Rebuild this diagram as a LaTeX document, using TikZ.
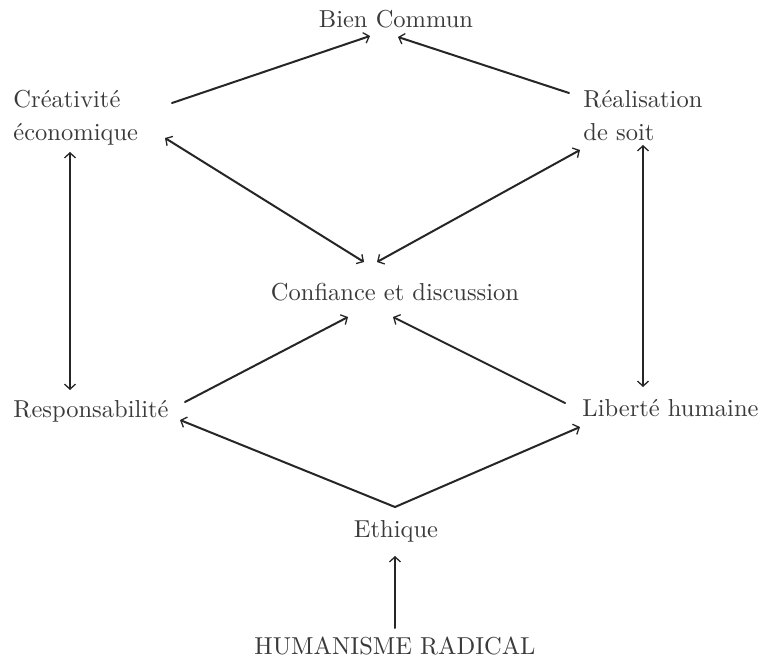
\documentclass[tikz,border=0pt]{standalone}
\usepackage{fontspec}
\usetikzlibrary{arrows.meta}
\definecolor{txt}{HTML}{3A3A3A}
\definecolor{ln}{HTML}{262626}
\begin{document}
\begin{tikzpicture}[x=1pt,y=-1pt,
  lbl/.style={inner sep=0pt,text=txt,font=\fontsize{10}{13.1}\selectfont,align=left,scale=2.45,transform shape},
  clbl/.style={inner sep=0pt,text=txt,font=\fontsize{10}{13.1}\selectfont,align=center,scale=2.45,transform shape},
  conn/.style={draw=ln,line width=2pt,line cap=round},
  >={Straight Barb[length=5pt,width=11pt,line width=1.3pt]}]
\useasboundingbox[fill=white] (0,0) rectangle (766,661);
% nodes
\node[clbl,anchor=base] (bien) at (396,28) {Bien Commun};
\node[lbl,anchor=base west] (crea) at (13,140) {Créativité\\économique};
\node[lbl,anchor=base west] (real) at (583,140) {Réalisation\\de soit};
\node[clbl,anchor=base] (conf) at (395,300) {Confiance et discussion};
\node[lbl,anchor=base west] (resp) at (13,417) {Responsabilité};
\node[lbl,anchor=base west] (lib) at (582,416) {Liberté humaine};
\node[clbl,anchor=base] (eth) at (396,537) {Ethique};
\node[clbl,anchor=base] (hum) at (395,654) {HUMANISME RADICAL};
\coordinate (split) at ([shift={(-1,-30)}]eth.base);
% connectors
\draw[conn,->] ([shift={(159,-37)}]crea.base west) -- ([shift={(-26,8)}]bien.base);
\draw[conn,->] ([shift={(-14,-47)}]real.base west) -- ([shift={(2,9)}]bien.base);
\draw[conn,<->] ([shift={(152,-2)}]crea.base west) -- ([shift={(-31,-38)}]conf.base);
\draw[conn,<->] ([shift={(-3,10)}]real.base west) -- ([shift={(-18,-38)}]conf.base);
\draw[conn,<->] ([shift={(57,12)}]crea.base west) -- ([shift={(57,-27)}]resp.base west);
\draw[conn,<->] ([shift={(60,5)}]real.base west) -- ([shift={(61,-29)}]lib.base west);
\draw[conn,->] ([shift={(172,-15)}]resp.base west) -- ([shift={(-47,17)}]conf.base);
\draw[conn,->] ([shift={(-17,-13)}]lib.base west) -- ([shift={(-2,17)}]conf.base);
\draw[conn,->] (split) -- ([shift={(167,3)}]resp.base west);
\draw[conn,->] (split) -- ([shift={(-2,11)}]lib.base west);
\draw[conn,->] ([shift={(0,-26)}]hum.base) -- ([shift={(-1,19)}]eth.base);
\end{tikzpicture}
\end{document}
